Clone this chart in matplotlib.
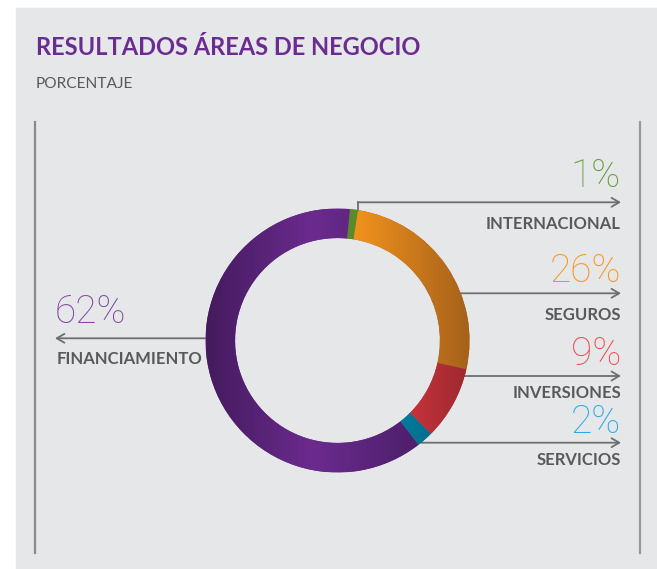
import numpy as np
import matplotlib.pyplot as plt
from matplotlib.patches import Rectangle
from matplotlib.colors import LinearSegmentedColormap

# datos
areas = ["INTERNACIONAL", "SEGUROS", "INVERSIONES", "SERVICIOS", "FINANCIAMIENTO"]
valores = [1, 26, 9, 2, 62]
etiquetas = ["1%", "26%", "9%", "2%", "62%"]

# colores (degradado horizontal de cada sector) y color del texto
grad = [["#5b8a2a", "#5b8a2a"],
        ["#f2921d", "#a5611a"],
        ["#c7333b", "#9d2930"],
        ["#007d9e", "#006d8c"],
        ["#441b5e", "#6b2b8e", "#4d1f6b"]]
col_txt = ["#5f9a35", "#f7941d", "#ef4b55", "#27a9e1", "#8147a0"]

W, H = 657, 569
fig = plt.figure(figsize=(W / 100, H / 100), dpi=100, facecolor="white")
ax = fig.add_axes([0, 0, 1, 1])
ax.set_xlim(0, W)
ax.set_ylim(H, 0)
ax.axis("off")

ax.add_patch(Rectangle((16, 8), W - 16, H - 8, color="#e6e7e8", zorder=0))
ax.plot([35, 35], [122, 553], color="#8a8a8a", lw=1.6)
ax.plot([640, 640], [122, 553], color="#9a9a9a", lw=1.6)

ax.text(36, 55, "RESULTADOS ÁREAS DE NEGOCIO", color="#6b2c91", fontsize=17,
        fontweight="bold", family="Lato", va="baseline")
ax.text(36, 88, "PORCENTAJE", color="#58595b", fontsize=11.2, family="Lato", va="baseline")

# donut
cx, cy, R = 337.5, 340.5, 132
ax2 = fig.add_axes([(cx - R) / W, (H - cy - R) / H, 2 * R / W, 2 * R / H])
wedges, _ = ax2.pie(valores, startangle=84.6, counterclock=False, radius=1,
                    wedgeprops=dict(width=0.224, linewidth=0))
ax2.set_xlim(-1, 1)
ax2.set_ylim(-1, 1)
ax2.axis("off")
for w, g in zip(wedges, grad):
    ext = w.get_path().get_extents()
    cmap = LinearSegmentedColormap.from_list("g", g)
    w.set_facecolor(g[len(g) // 2])
    img = ax2.imshow(np.linspace(0, 1, 256).reshape(1, -1), cmap=cmap, aspect="auto",
                     extent=[ext.x0, ext.x1, -1, 1], interpolation="bilinear", zorder=3)
    img.set_clip_path(w)

# lineas guia y textos
lc = "#6d6e71"
pf = dict(family="Roboto", fontweight="light", fontsize=28, va="baseline")
lf = dict(family="Lato", fontweight="bold", fontsize=12, color="#58595b", va="baseline")
ap = dict(arrowstyle="->,head_length=0.55,head_width=0.32", color=lc, lw=1.3, shrinkA=0, shrinkB=0)
linea_y = [202.3, 293.3, 376, 442.7]
pct_base = [187, 282, 365, 433]
lab_base = [229, 320, 398, 465]
for i in range(4):
    y = linea_y[i]
    if i == 0:
        x0 = 358
        ax.plot([x0, x0], [y, cy - np.sqrt(R**2 - (x0 - cx) ** 2)], color=lc, lw=1.3)
    else:
        x0 = cx + np.sqrt(R**2 - (y - cy) ** 2)
    ax.annotate("", xy=(621, y), xytext=(x0, y), arrowprops=ap)
    ax.text(621, pct_base[i], etiquetas[i], color=col_txt[i], ha="right", **pf)
    ax.text(621, lab_base[i], areas[i], ha="right", **lf)

y = 338.3
ax.annotate("", xy=(55, y), xytext=(cx - R, y), arrowprops=ap)
ax.text(55, 323, etiquetas[4], color=col_txt[4], ha="left", **pf)
ax.text(57, 363.5, areas[4], ha="left", **lf)

fig.savefig("out.png", dpi=100, facecolor="white")
